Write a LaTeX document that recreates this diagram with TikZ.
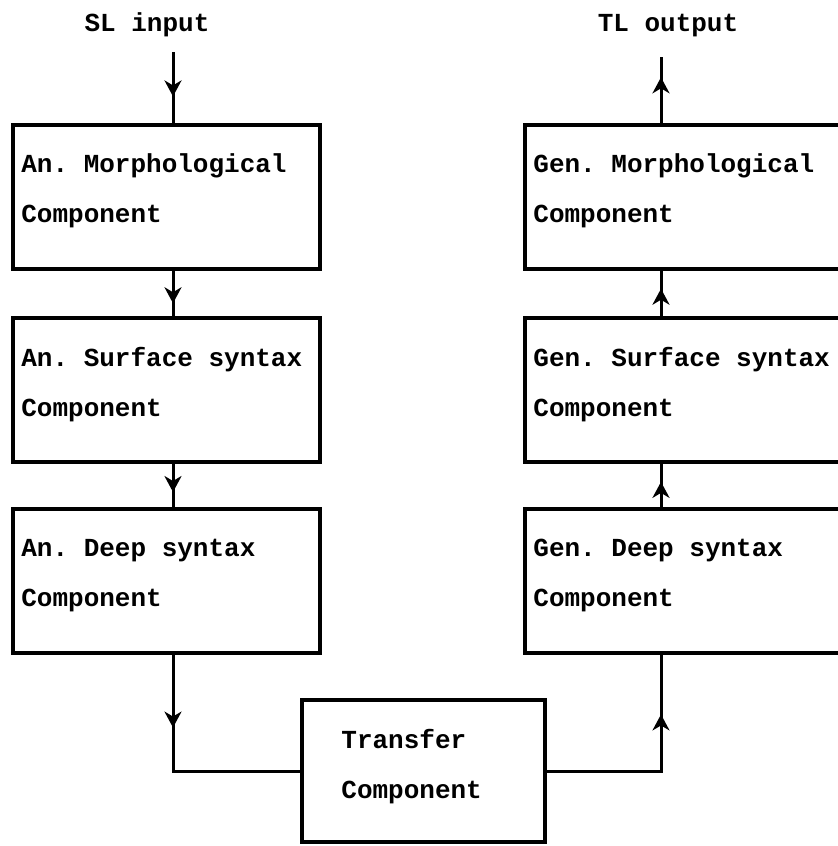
\documentclass[tikz,border=0pt]{standalone}
\usepackage{fontspec}
\setmonofont{Liberation Mono}
\usetikzlibrary{arrows.meta,decorations.markings,calc}
\begin{document}
\begin{tikzpicture}[x=0.5pt,y=-0.5pt,
  box/.style={draw, line width=2pt, inner sep=0pt, minimum height=72pt},
  lbox/.style={box, minimum width=153.5pt},
  rbox/.style={box, minimum width=172.5pt},
  tbox/.style={box, minimum width=121.5pt, minimum height=71pt},
  txt/.style={anchor=base west, inner sep=0pt, font=\fontsize{13pt}{15pt}\selectfont\ttfamily\bfseries},
  ttl/.style={anchor=base, inner sep=0pt, font=\fontsize{13pt}{15pt}\selectfont\ttfamily\bfseries},
  conn/.style={line width=1.5pt, line join=miter},
  midarrow/.style={postaction={decorate}, decoration={markings,
    mark=at position #1 with {\arrow{Stealth[length=8pt,width=8.5pt,inset=2.5pt]}}}}
]
\useasboundingbox (0,0) rectangle (838,846);
\clip (0,0) rectangle (838,846);

\coordinate (lx) at (173,0);
\coordinate (rx) at (661,0);

% left column
\node[lbox] (L1) at (166.5,196.5) {};
\node[lbox] (L2) at (166.5,390) {};
\node[lbox] (L3) at (166.5,580.5) {};
% right column
\node[rbox] (R1) at (697.5,196.5) {};
\node[rbox] (R2) at (697.5,390) {};
\node[rbox] (R3) at (697.5,580.5) {};
% transfer
\node[tbox] (T) at (423.5,771) {};

% texts
\node[txt] (L1a) at ($(L1.north west)+(10,50)$) {An. Morphological};
\node[txt] (L1b) at ($(L1.north west)+(10,100)$) {Component};
\node[txt] (L2a) at ($(L2.north west)+(10,50)$) {An. Surface syntax};
\node[txt] (L2b) at ($(L2.north west)+(10,100)$) {Component};
\node[txt] (L3a) at ($(L3.north west)+(10,50)$) {An. Deep syntax};
\node[txt] (L3b) at ($(L3.north west)+(10,100)$) {Component};
\node[txt] (R1a) at ($(R1.north west)+(10,50)$) {Gen. Morphological};
\node[txt] (R1b) at ($(R1.north west)+(10,100)$) {Component};
\node[txt] (R2a) at ($(R2.north west)+(10,50)$) {Gen. Surface syntax};
\node[txt] (R2b) at ($(R2.north west)+(10,100)$) {Component};
\node[txt] (R3a) at ($(R3.north west)+(10,50)$) {Gen. Deep syntax};
\node[txt] (R3b) at ($(R3.north west)+(10,100)$) {Component};
\node[txt] (Ta) at ($(T.north west)+(41,50)$) {Transfer};
\node[txt] (Tb) at ($(T.north west)+(41,100)$) {Component};

\node[ttl] (sl) at (147,32) {SL input};
\node[ttl] (tl) at (668,32) {TL output};

\coordinate (slin) at (173,52);
\coordinate (tlout) at (661,57);

% left connectors
\draw[conn, midarrow=0.63] (slin) -- (L1.north -| lx);
\draw[conn, midarrow=0.72] (L1.south -| lx) -- (L2.north -| lx);
\draw[conn, midarrow=0.66] (L2.south -| lx) -- (L3.north -| lx);
\draw[conn, midarrow=0.30] (L3.south -| lx) -- (lx |- T.west) -- (T.west);
% right connectors
\draw[conn, midarrow=0.74] (T.east) -- (rx |- T.east) -- (R3.south -| rx);
\draw[conn, midarrow=0.58] (R3.north -| rx) -- (R2.south -| rx);
\draw[conn, midarrow=0.60] (R2.north -| rx) -- (R1.south -| rx);
\draw[conn, midarrow=0.69] (R1.north -| rx) -- (tlout);
\end{tikzpicture}
\end{document}
